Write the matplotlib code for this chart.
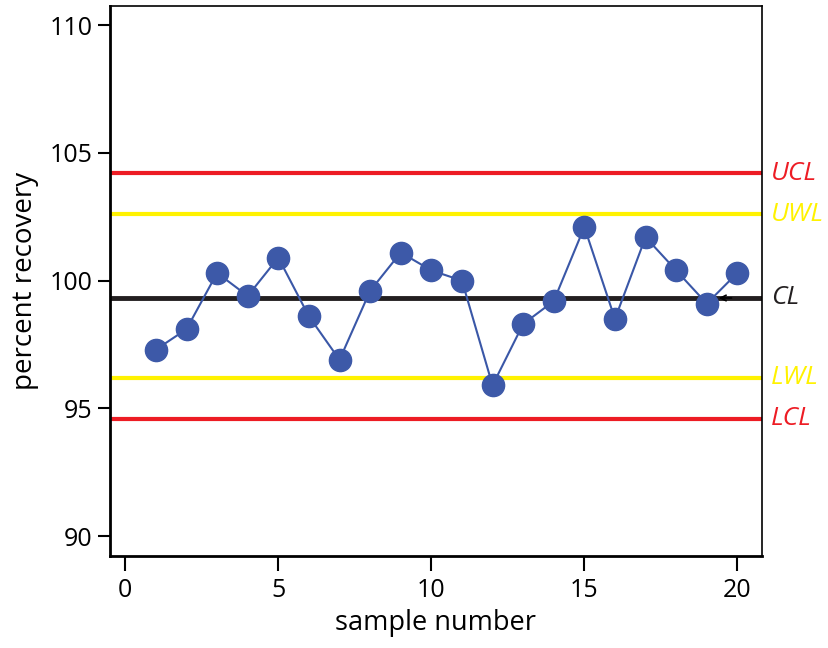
import numpy as np
import matplotlib
matplotlib.use("Agg")
import matplotlib.pyplot as plt

plt.rcParams['font.family'] = ['Open Sans', 'DejaVu Sans']

# control chart data
sample = list(range(1, 21))
recovery = [97.3, 98.1, 100.3, 99.4, 100.9, 98.6, 96.9, 99.6, 101.1, 100.4,
            100.0, 95.9, 98.3, 99.2, 102.1, 98.5, 101.7, 100.4, 99.1, 100.3]

limit_names = ["UCL", "UWL", "CL", "LWL", "LCL"]
limit_values = [104.2, 102.6, 99.32, 96.2, 94.6]
limit_colors = ["#ed1c24", "#fff200", "#231f20", "#fff200", "#ed1c24"]

fig = plt.figure(figsize=(8.29, 6.48), dpi=100)
ax = fig.add_axes([0.1327, 0.142, 0.7863, 0.8487])

for name, val, col in zip(limit_names, limit_values, limit_colors):
    ax.axhline(val, color=col, lw=3.5 if name == "CL" else 3, zorder=1)
    ax.text(1.014, val, name, transform=ax.get_yaxis_transform(), color=col,
            style="italic", fontsize=19, va="center", ha="left")

ax.plot(sample, recovery, color="#3a57a7", lw=1.5, marker="o", ms=16,
        mfc="#3d59a8", mec="#3d59a8", zorder=3)

# little arrow pointing at the centre line
ax.annotate("", xy=(19.3, limit_values[2]), xytext=(19.9, limit_values[2]),
            arrowprops=dict(arrowstyle="->", color="black", lw=1.2), zorder=4)

ax.set_xlim(-0.5, 20.8)
ax.set_ylim(89.22, 110.75)
ax.set_xticks([0, 5, 10, 15, 20])
ax.set_yticks([90, 95, 100, 105, 110])
ax.tick_params(labelsize=18, width=1.5, direction="out")
ax.tick_params(axis="x", length=11, pad=5)
ax.tick_params(axis="y", length=8.5, pad=4)
ax.set_xlabel("sample number", fontsize=19.5, labelpad=4)
ax.set_ylabel("percent recovery", fontsize=20, labelpad=8)

for side in ["left", "bottom"]:
    ax.spines[side].set_linewidth(2)
for side in ["top", "right"]:
    ax.spines[side].set_linewidth(1.2)

fig.savefig("out.png", dpi=100)
